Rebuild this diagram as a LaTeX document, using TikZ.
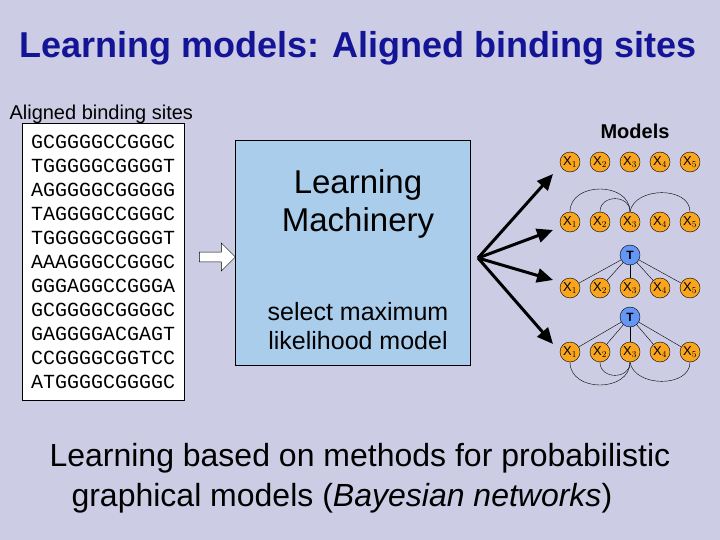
\documentclass[tikz,border=0pt]{standalone}
\usepackage{fontspec}
\setmainfont{Liberation Sans}
\newfontfamily\seqfont{Liberation Mono}
\usetikzlibrary{arrows.meta,shapes.arrows}
\definecolor{bg}{RGB}{204,204,228}
\definecolor{ttl}{RGB}{20,20,150}
\definecolor{boxb}{RGB}{170,205,235}
\definecolor{org}{RGB}{250,165,30}
\definecolor{tb}{RGB}{100,150,245}
\begin{document}
\begin{tikzpicture}[x=1pt,y=-1pt,
 xn/.style={circle,draw,fill=org,minimum size=20pt,inner sep=0pt,font=\fontsize{13}{13}\selectfont},
 tn/.style={circle,draw,fill=tb,minimum size=20pt,inner sep=0pt,font=\fontsize{12}{12}\selectfont\bfseries},
 ar/.style={-{Triangle[length=16pt,width=14pt]},line width=3pt}]
\fill[bg] (0,0) rectangle (720,540);
\useasboundingbox (0,0) rectangle (720,540);
\node[text=ttl,font=\fontsize{36}{38}\selectfont\bfseries] (title) at (358,48) {Learning models: Aligned binding sites};
\node[font=\fontsize{20}{22}\selectfont,anchor=west] (abs) at (6,114) {Aligned binding sites};
\node[draw,fill=white,anchor=north west,minimum width=162pt,minimum height=277pt] (seq) at (22,123) {};
\node[align=left,font=\seqfont\fontsize{20}{24}\selectfont] (seqt) at (seq.center) {GCGGGGCCGGGC\\TGGGGGCGGGGT\\AGGGGGCGGGGG\\TAGGGGCCGGGC\\TGGGGGCGGGGT\\AAAGGGCCGGGC\\GGGAGGCCGGGA\\GCGGGGCGGGGC\\GAGGGGACGAGT\\CCGGGGCGGTCC\\ATGGGGCGGGGC};
\node[draw,single arrow,fill=white,minimum height=36pt,minimum width=28pt,single arrow head extend=6pt,inner sep=3pt] (ha) at (215,257) {};
\node[draw,fill=boxb,anchor=north west,minimum width=235pt,minimum height=225pt] (lm) at (235,140) {};
\node[font=\fontsize{33}{38}\selectfont,align=center] (lmt) at (358,204) {Learning\\Machinery};
\node[font=\fontsize{25}{29}\selectfont,align=center] (sel) at (358,326) {select maximum\\likelihood model};
\node[font=\fontsize{20}{22}\selectfont\bfseries] (mod) at (635,131) {Models};
\foreach \r/\y in {1/162,2/222,3/288,4/352}{
 \foreach \c/\x in {1/570,2/600,3/630,4/660,5/690}{
  \node[xn] (n\r\c) at (\x,\y) {X$_{\c}$};}}
\node[tn] (t3) at (630,255) {T};
\node[tn] (t4) at (630,317) {T};
\foreach \c in {1,2,3,4,5}{\draw (t3) -- (n3\c); \draw (t4) -- (n4\c);}
\draw (n21.north) to[out=90,in=90,looseness=1.3] (n23.north);
\draw (n22.north) to[out=90,in=90,looseness=1.5] (n23.north);
\draw (n23.north) to[out=80,in=90,looseness=1.1] (n25.north);
\draw (n41.south) to[out=-90,in=-90,looseness=1.3] (n43.south);
\draw (n42.south) to[out=-90,in=-90,looseness=1.5] (n43.south);
\draw (n43.south) to[out=-80,in=-90,looseness=1.1] (n45.south);
\coordinate (src) at (478,258);
\coordinate (e1) at (553,174);\coordinate (e2) at (553,230);
\coordinate (e3) at (553,280);\coordinate (e4) at (553,344);
\foreach \i in {1,2,3,4}{\draw[ar] (src) -- (e\i);}
\node[font=\fontsize{32}{40}\selectfont,align=left,anchor=north west] (foot) at (46,440) {Learning based on methods for probabilistic\\\hspace*{22pt}graphical models (\textit{Bayesian networks})};
\end{tikzpicture}
\end{document}
